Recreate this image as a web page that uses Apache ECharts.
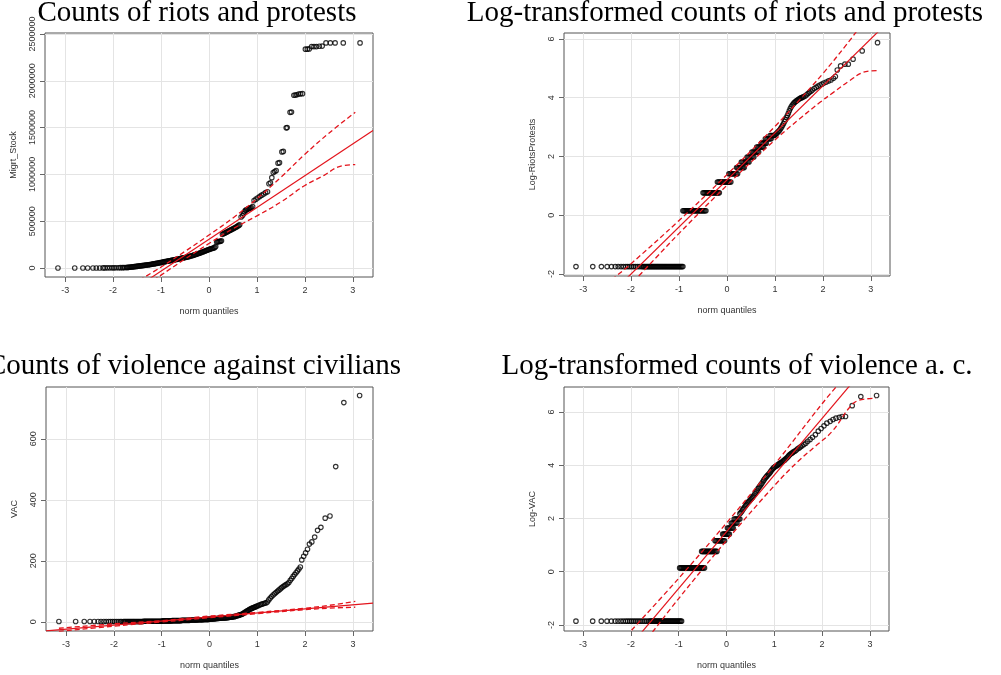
<!DOCTYPE html>
<html>
<head>
<meta charset="utf-8">
<title>QQ plots</title>
<script src="https://cdn.jsdelivr.net/npm/echarts@6/dist/echarts.min.js"></script>
<style>
html, body { margin: 0; padding: 0; background: #fff; }
#chart { width: 1001px; height: 675px; }
</style>
</head>
<body>
<div id="chart"></div>
<script>
// panel titles and axis names
var titles = ['Counts of riots and protests', 'Log-transformed counts of riots and protests',
	'Counts of violence against civilians', 'Log-transformed counts of violence a. c.'];
var yNames = ['Migrt_Stock', 'Log-RiotsProtests', 'VAC', 'Log-VAC'];
var xName = 'norm quantiles';

// tick labels
var qTicks = [-3, -2, -1, 0, 1, 2, 3];
var rpTicks = [0, 500000, 1000000, 1500000, 2000000, 2500000];
var lrpTicks = [-2, 0, 2, 4, 6];
var vacTicks = [0, 200, 400, 600];
var lvacTicks = [-2, 0, 2, 4, 6];

// axis extents [min, max]
var rpX = [-3.42, 3.42], rpY = [-96000, 2510000];
var lrpX = [-3.4, 3.4], lrpY = [-2.07, 6.2];
var vacX = [-3.42, 3.42], vacY = [-30, 770];
var lvacX = [-3.4, 3.4], lvacY = [-2.23, 6.94];

// riots and protests: [norm quantile, value]
var rpPoints = [
	[-3.15,0],[-2.8,0],[-2.63,0],[-2.53,0],[-2.42,0],[-2.35,500],[-2.28,500],[-2.21,1000],[-2.17,1000],[-2.12,1500],
	[-2.07,1500],[-2.02,2000],[-1.98,2000],[-1.94,2500],[-1.89,3000],[-1.85,3500],[-1.81,4000],[-1.78,4500],[-1.75,5000],[-1.72,5500],
	[-1.7,6000],[-1.68,7000],[-1.66,8000],[-1.64,9500],[-1.62,11000],[-1.6,12000],[-1.58,13000],[-1.56,14500],[-1.54,16000],[-1.52,17000],
	[-1.5,18000],[-1.48,19500],[-1.46,21000],[-1.44,22500],[-1.42,24000],[-1.4,25000],[-1.38,26500],[-1.36,28000],[-1.34,29500],[-1.32,31000],
	[-1.3,32000],[-1.28,33500],[-1.26,35000],[-1.24,36500],[-1.22,38000],[-1.2,40000],[-1.18,42000],[-1.16,43500],[-1.14,45000],[-1.12,47000],
	[-1.1,49000],[-1.08,51000],[-1.06,53000],[-1.04,55000],[-1.02,57000],[-1,59000],[-0.98,61000],[-0.96,63000],[-0.94,65500],[-0.92,68000],
	[-0.9,70000],[-0.88,72000],[-0.86,74000],[-0.84,76000],[-0.82,78000],[-0.8,80000],[-0.78,82000],[-0.76,84000],[-0.74,86000],[-0.72,88000],
	[-0.7,90000],[-0.68,92000],[-0.66,94000],[-0.64,96500],[-0.62,99000],[-0.6,101000],[-0.58,103000],[-0.56,105000],[-0.54,107500],[-0.52,110000],
	[-0.5,112000],[-0.48,114500],[-0.46,117000],[-0.44,119500],[-0.42,122000],[-0.4,125000],[-0.38,128000],[-0.36,131000],[-0.34,134000],[-0.32,137500],
	[-0.3,141000],[-0.28,144500],[-0.26,148000],[-0.24,151000],[-0.22,154500],[-0.2,158000],[-0.18,162000],[-0.16,166000],[-0.14,170000],[-0.12,174000],
	[-0.1,178000],[-0.08,182000],[-0.06,186000],[-0.04,190000],[-0.02,194000],[0,198000],[0.02,202000],[0.04,205000],[0.06,208000],[0.08,211000],
	[0.1,215000],[0.12,220000],[0.14,230000],[0.16,278000],[0.18,280000],[0.2,282000],[0.22,284000],[0.24,286000],[0.26,290000],[0.28,360000],
	[0.3,366000],[0.32,371000],[0.34,376000],[0.36,381000],[0.38,386000],[0.4,392000],[0.42,397000],[0.44,403000],[0.46,408000],[0.48,413000],
	[0.5,419000],[0.52,424000],[0.54,429000],[0.56,435000],[0.58,442000],[0.6,448000],[0.62,455000],[0.64,462000],[0.67,545000],[0.7,560000],
	[0.72,580000],[0.74,600000],[0.76,615000],[0.78,622000],[0.8,627000],[0.82,632000],[0.84,636000],[0.86,640000],[0.88,645000],[0.91,655000],
	[0.94,720000],[0.98,735000],[1.02,750000],[1.06,765000],[1.1,778000],[1.14,790000],[1.18,805000],[1.22,815000],[1.25,900000],[1.28,910000],
	[1.31,965000],[1.34,1020000],[1.37,1030000],[1.4,1040000],[1.44,1120000],[1.47,1125000],[1.52,1240000],[1.55,1245000],[1.61,1497000],[1.63,1500000],
	[1.69,1663000],[1.72,1665000],[1.77,1845000],[1.8,1848000],[1.83,1850000],[1.87,1858000],[1.91,1860000],[1.95,1862000],[2.01,2337000],[2.05,2337000],
	[2.09,2340000],[2.14,2365000],[2.19,2365000],[2.24,2365000],[2.3,2368000],[2.36,2370000],[2.44,2404000],[2.53,2404000],[2.63,2404000],[2.8,2404000],
	[3.15,2404000]
];
var rpLine = [[-3.42,-856000],[3.42,1470000]];
var rpUpper = [[-1.45,-130000],[-1,10000],[-0.5,178000],[0,352000],[0.5,535000],[1,740000],[1.5,970000],[2,1215000],[2.5,1440000],[3.05,1663000]];
var rpLower = [[-1.3,-180000],[-1,-76000],[-0.5,96000],[0,262000],[0.5,420000],[1,557000],[1.5,705000],[2,882000],[2.4,990000],[2.7,1080000],[3.05,1105000]];

// log riots and protests
var lrpPoints = [
	[-3.15,-1.75],[-2.8,-1.75],[-2.62,-1.75],[-2.5,-1.75],[-2.41,-1.75],[-2.33,-1.75],[-2.27,-1.75],[-2.21,-1.75],[-2.16,-1.75],[-2.11,-1.75],
	[-2.07,-1.75],[-2.03,-1.75],[-1.99,-1.75],[-1.95,-1.75],[-1.91,-1.75],[-1.87,-1.75],[-1.83,-1.75],[-1.79,-1.75],
	[-1.76,-1.75],[-1.74,-1.75],[-1.72,-1.75],[-1.7,-1.75],[-1.68,-1.75],[-1.66,-1.75],[-1.64,-1.75],[-1.62,-1.75],[-1.6,-1.75],[-1.58,-1.75],
	[-1.56,-1.75],[-1.54,-1.75],[-1.52,-1.75],[-1.5,-1.75],[-1.48,-1.75],[-1.46,-1.75],[-1.44,-1.75],[-1.42,-1.75],[-1.4,-1.75],[-1.38,-1.75],
	[-1.36,-1.75],[-1.34,-1.75],[-1.32,-1.75],[-1.3,-1.75],[-1.28,-1.75],[-1.26,-1.75],[-1.24,-1.75],[-1.22,-1.75],[-1.2,-1.75],[-1.18,-1.75],
	[-1.16,-1.75],[-1.14,-1.75],[-1.12,-1.75],[-1.1,-1.75],[-1.08,-1.75],[-1.06,-1.75],[-1.04,-1.75],[-1.02,-1.75],[-1,-1.75],[-0.98,-1.75],
	[-0.96,-1.75],[-0.94,-1.75],[-0.92,-1.75],
	[-0.92,0.15],[-0.9,0.15],[-0.88,0.15],[-0.86,0.15],[-0.84,0.15],[-0.82,0.15],[-0.8,0.15],[-0.78,0.15],[-0.76,0.15],[-0.74,0.15],[-0.72,0.15],[-0.7,0.15],[-0.68,0.15],
	[-0.66,0.15],[-0.64,0.15],[-0.62,0.15],[-0.6,0.15],[-0.58,0.15],[-0.56,0.15],[-0.54,0.15],[-0.52,0.15],[-0.5,0.15],[-0.48,0.15],[-0.46,0.15],[-0.44,0.15],
	[-0.5,0.76],[-0.48,0.76],[-0.46,0.76],[-0.44,0.76],[-0.42,0.76],[-0.4,0.76],[-0.38,0.76],[-0.36,0.76],[-0.34,0.76],
	[-0.32,0.76],[-0.3,0.76],[-0.28,0.76],[-0.26,0.76],[-0.24,0.76],[-0.22,0.76],[-0.2,0.76],[-0.18,0.76],[-0.16,0.76],
	[-0.2,1.13],[-0.18,1.13],[-0.16,1.13],[-0.14,1.13],[-0.12,1.13],[-0.1,1.13],[-0.08,1.13],[-0.06,1.13],
	[-0.04,1.13],[-0.02,1.13],[0,1.13],[0.02,1.13],[0.04,1.13],[0.06,1.13],[0.08,1.13],
	[0.04,1.41],[0.06,1.41],[0.08,1.41],[0.1,1.41],[0.12,1.41],[0.14,1.41],[0.16,1.41],[0.18,1.41],[0.2,1.41],[0.22,1.41],
	[0.2,1.62],[0.22,1.62],[0.24,1.62],[0.26,1.62],[0.28,1.62],[0.3,1.62],[0.32,1.62],[0.34,1.62],[0.36,1.62],
	[0.3,1.81],[0.32,1.81],[0.34,1.81],[0.36,1.81],[0.38,1.81],[0.4,1.81],[0.42,1.81],[0.44,1.81],[0.46,1.81],
	[0.42,1.98],[0.44,1.98],[0.46,1.98],[0.48,1.98],[0.5,1.98],[0.52,1.98],[0.54,1.98],[0.56,1.98],
	[0.52,2.15],[0.54,2.15],[0.56,2.15],[0.58,2.15],[0.6,2.15],[0.62,2.15],[0.64,2.15],[0.66,2.15],
	[0.62,2.32],[0.64,2.32],[0.66,2.32],[0.68,2.32],[0.7,2.32],[0.72,2.32],[0.74,2.32],[0.76,2.32],
	[0.72,2.45],[0.74,2.45],[0.76,2.45],[0.78,2.45],[0.8,2.45],[0.82,2.45],
	[0.8,2.6],[0.82,2.6],[0.84,2.6],[0.86,2.6],[0.88,2.6],[0.9,2.6],[0.92,2.6],
	[0.9,2.71],[0.92,2.71],[0.94,2.71],[0.96,2.71],[0.98,2.71],
	[1,2.73],[1.02,2.76],[1.04,2.79],[1.06,2.83],[1.08,2.86],[1.1,2.9],[1.12,2.95],[1.14,3],[1.16,3.06],[1.18,3.12],
	[1.2,3.19],[1.22,3.25],[1.24,3.32],[1.26,3.39],[1.28,3.47],[1.3,3.55],[1.32,3.63],[1.34,3.69],[1.36,3.74],[1.38,3.78],
	[1.4,3.82],[1.42,3.85],[1.44,3.88],[1.46,3.9],[1.48,3.93],[1.5,3.95],[1.52,3.97],[1.54,3.99],[1.56,4],[1.58,4.02],
	[1.6,4.03],[1.63,4.06],[1.66,4.1],[1.69,4.14],[1.72,4.18],[1.75,4.22],[1.78,4.26],[1.82,4.31],[1.86,4.35],[1.9,4.39],
	[1.94,4.43],[1.98,4.46],[2.02,4.5],[2.07,4.53],[2.12,4.57],[2.17,4.6],[2.22,4.66],[2.26,4.72],[2.3,4.94],[2.37,5.08],
	[2.46,5.14],[2.53,5.14],[2.63,5.31],[2.82,5.59],[3.14,5.87]
];
var lrpLine = [[-3.4,-4.24],[3.4,6.64]];
var lrpUpper = [[-2.4,-2.19],[-2,-1.65],[-1,-0.18],[0,1.38],[1,3.02],[1.5,3.9],[2,4.82],[2.5,5.82],[2.75,6.36]];
var lrpLower = [[-1.95,-2.26],[-1.5,-1.48],[-1,-0.62],[0,1.02],[1,2.56],[1.5,3.26],[1.94,3.84],[2.22,4.18],[2.56,4.58],[2.84,4.86],[3.12,4.92]];

// violence against civilians
var vacPoints = [
	[-3.15,1],[-2.8,1],[-2.62,1],[-2.5,1],[-2.41,1],[-2.33,1],[-2.27,1],[-2.21,1],[-2.16,1],[-2.11,1],
	[-2.07,1],[-2.03,1],[-1.99,1],[-1.95,1],[-1.91,1],[-1.87,1],[-1.84,1],
	[-1.8,1],[-1.78,1],[-1.76,1],[-1.74,1],[-1.72,1],[-1.7,1],[-1.68,1],[-1.66,1],[-1.64,1],[-1.62,1],[-1.6,1],
	[-1.58,1],[-1.56,1],[-1.54,1],[-1.52,1],[-1.5,1],[-1.48,1],[-1.46,1],[-1.44,1],[-1.42,1],[-1.4,1],
	[-1.38,2],[-1.36,2],[-1.34,2],[-1.32,2],[-1.3,2],[-1.28,2],[-1.26,2],[-1.24,2],[-1.22,2],[-1.2,2],
	[-1.18,2],[-1.16,2],[-1.14,2],[-1.12,2],[-1.1,2],[-1.08,2],[-1.06,2],[-1.04,2],[-1.02,2],[-1,2],
	[-0.98,3],[-0.96,3],[-0.94,3],[-0.92,3],[-0.9,3],[-0.88,3],[-0.86,3],[-0.84,3],[-0.82,3],[-0.8,3],
	[-0.78,4],[-0.76,4],[-0.74,4],[-0.72,4],[-0.7,4],[-0.68,4],[-0.66,4],[-0.64,4],[-0.62,4],[-0.6,4],
	[-0.58,5],[-0.56,5],[-0.54,5],[-0.52,5],[-0.5,5],[-0.48,5],[-0.46,5],[-0.44,5],[-0.42,5],
	[-0.4,6],[-0.38,6],[-0.36,6],[-0.34,6],[-0.32,6],[-0.3,6],[-0.28,6],[-0.26,6],
	[-0.24,7],[-0.22,7],[-0.2,7],[-0.18,7],[-0.16,7],[-0.14,7],[-0.12,8],[-0.1,8],[-0.08,8],[-0.06,8],[-0.04,8],[-0.02,8],
	[0,9],[0.02,9],[0.04,9],[0.06,9],[0.08,10],[0.1,10],[0.12,10],[0.14,11],[0.16,11],[0.18,11],
	[0.2,12],[0.22,12],[0.24,12],[0.26,13],[0.28,13],[0.3,13],[0.32,13],[0.34,13],[0.36,14],[0.38,14],
	[0.4,14],[0.42,15],[0.44,15],[0.46,15],[0.48,16],[0.5,17],[0.52,17],[0.54,18],[0.56,19],[0.58,20],
	[0.6,21],[0.62,22],[0.64,23],[0.66,24],[0.68,25],[0.7,27],[0.72,29],[0.74,31],[0.76,33],[0.78,35],
	[0.8,37],[0.82,39],[0.84,41],[0.86,42],[0.88,44],[0.9,45],[0.92,47],[0.94,48],[0.96,49],[0.98,51],
	[1,52],[1.03,54],[1.06,56],[1.09,58],[1.12,59],[1.15,61],[1.18,62],[1.21,65],[1.24,72],[1.27,78],
	[1.3,83],[1.33,88],[1.36,92],[1.39,96],[1.42,100],[1.45,104],[1.48,108],[1.51,112],[1.54,116],[1.57,119],
	[1.6,122],[1.63,125],[1.66,129],[1.69,136],[1.72,142],[1.75,149],[1.78,155],[1.81,161],[1.84,167],[1.87,173],
	[1.9,180],
	[1.93,203],[1.97,215],[2.01,226],[2.05,238],[2.09,255],[2.14,262],[2.2,278],[2.26,300],[2.33,310],[2.42,340],
	[2.52,347],[2.64,509],[2.81,719],[3.14,742]
];
var vacLine = [[-3.42,-29.5],[3.42,61.5]];
var vacUpper = [[-3.15,-21],[-2,-6.5],[-1,4],[0,19],[1,31],[2,45],[2.5,54],[3.05,67]];
var vacLower = [[-3.15,-31],[-2,-14],[-1,-0.5],[0,13.5],[1,27],[2,40],[2.5,45],[3.05,48]];

// log violence against civilians
var lvacPoints = [
	[-3.15,-1.86],[-2.8,-1.86],[-2.62,-1.86],[-2.5,-1.86],[-2.41,-1.86],[-2.33,-1.86],[-2.27,-1.86],[-2.21,-1.86],[-2.16,-1.86],[-2.11,-1.86],
	[-2.07,-1.86],[-2.03,-1.86],[-1.99,-1.86],[-1.95,-1.86],[-1.91,-1.86],[-1.87,-1.86],[-1.83,-1.86],[-1.79,-1.86],[-1.75,-1.86],[-1.71,-1.86],
	[-1.67,-1.86],[-1.63,-1.86],
	[-1.6,-1.86],[-1.58,-1.86],[-1.56,-1.86],[-1.54,-1.86],[-1.52,-1.86],[-1.5,-1.86],[-1.48,-1.86],[-1.46,-1.86],[-1.44,-1.86],[-1.42,-1.86],
	[-1.4,-1.86],[-1.38,-1.86],[-1.36,-1.86],[-1.34,-1.86],[-1.32,-1.86],[-1.3,-1.86],[-1.28,-1.86],[-1.26,-1.86],[-1.24,-1.86],[-1.22,-1.86],
	[-1.2,-1.86],[-1.18,-1.86],[-1.16,-1.86],[-1.14,-1.86],[-1.12,-1.86],[-1.1,-1.86],[-1.08,-1.86],[-1.06,-1.86],[-1.04,-1.86],[-1.02,-1.86],
	[-1,-1.86],[-0.98,-1.86],[-0.96,-1.86],[-0.94,-1.86],
	[-0.98,0.14],[-0.96,0.14],[-0.94,0.14],[-0.92,0.14],[-0.9,0.14],[-0.88,0.14],[-0.86,0.14],[-0.84,0.14],[-0.82,0.14],[-0.8,0.14],
	[-0.78,0.14],[-0.76,0.14],[-0.74,0.14],[-0.72,0.14],[-0.7,0.14],[-0.68,0.14],[-0.66,0.14],[-0.64,0.14],[-0.62,0.14],[-0.6,0.14],
	[-0.58,0.14],[-0.56,0.14],[-0.54,0.14],[-0.52,0.14],[-0.5,0.14],[-0.48,0.14],[-0.46,0.14],
	[-0.52,0.76],[-0.5,0.76],[-0.48,0.76],[-0.46,0.76],[-0.44,0.76],[-0.42,0.76],[-0.4,0.76],[-0.38,0.76],[-0.36,0.76],
	[-0.34,0.76],[-0.32,0.76],[-0.3,0.76],[-0.28,0.76],[-0.26,0.76],[-0.24,0.76],[-0.22,0.76],[-0.2,0.76],
	[-0.24,1.16],[-0.22,1.16],[-0.2,1.16],[-0.18,1.16],[-0.16,1.16],[-0.14,1.16],[-0.12,1.16],[-0.1,1.16],[-0.08,1.16],[-0.06,1.16],[-0.04,1.16],
	[-0.08,1.41],[-0.06,1.41],[-0.04,1.41],[-0.02,1.41],[0,1.41],[0.02,1.41],[0.04,1.41],[0.06,1.41],
	[0.02,1.64],[0.04,1.64],[0.06,1.64],[0.08,1.64],[0.1,1.64],[0.12,1.64],[0.14,1.64],
	[0.1,1.83],[0.12,1.83],[0.14,1.83],[0.16,1.83],[0.18,1.83],[0.2,1.83],[0.22,1.83],
	[0.16,1.98],[0.18,1.98],[0.2,1.98],[0.22,1.98],[0.24,1.98],[0.26,1.98],[0.28,1.98],
	[0.28,2.18],[0.3,2.22],[0.32,2.27],[0.34,2.33],[0.36,2.38],[0.38,2.43],[0.4,2.48],[0.42,2.53],[0.44,2.58],[0.46,2.62],
	[0.48,2.66],[0.5,2.7],[0.52,2.74],[0.54,2.78],[0.56,2.83],[0.58,2.88],[0.6,2.94],[0.62,3],[0.64,3.06],[0.66,3.12],
	[0.68,3.17],[0.7,3.22],[0.72,3.27],[0.74,3.32],[0.76,3.38],[0.78,3.44],[0.8,3.49],[0.82,3.54],[0.84,3.58],[0.86,3.62],
	[0.88,3.66],[0.9,3.7],[0.92,3.75],[0.94,3.8],[0.96,3.85],[0.98,3.89],[1,3.92],[1.02,3.95],[1.04,3.97],[1.06,3.99],
	[1.08,4.02],[1.1,4.05],[1.12,4.07],[1.14,4.1],[1.16,4.12],[1.18,4.15],[1.2,4.18],[1.22,4.2],[1.24,4.24],[1.26,4.27],
	[1.28,4.31],[1.3,4.35],[1.32,4.39],[1.34,4.42],[1.36,4.45],[1.38,4.47],[1.4,4.5],[1.43,4.53],[1.46,4.57],[1.49,4.62],
	[1.52,4.65],[1.55,4.69],[1.58,4.73],[1.62,4.78],[1.66,4.83],[1.7,4.9],[1.75,4.97],[1.8,5.05],[1.86,5.15],[1.92,5.28],
	[1.98,5.38],[2.04,5.48],[2.1,5.58],[2.17,5.65],[2.23,5.72],[2.29,5.77],[2.36,5.8],[2.42,5.83],[2.49,5.83],[2.63,6.24],
	[2.81,6.58],[3.14,6.62]
];
var lvacLine = [[-3.4,-5.74],[3.4,8.74]];
var lvacUpper = [[-2.1,-2.42],[-1,-0.25],[0,1.83],[1,4.01],[2,6.31],[2.35,7.06]];
var lvacLower = [[-1.65,-2.51],[-1,-1.01],[0,1.17],[1,3.23],[1.5,4.15],[1.87,4.73],[2.21,5.27],[2.56,6.14],[2.74,6.42],[3.12,6.52]];

var panels = [
	{x: rpX, y: rpY, yTicks: rpTicks, pts: rpPoints, line: rpLine, up: rpUpper, lo: rpLower},
	{x: lrpX, y: lrpY, yTicks: lrpTicks, pts: lrpPoints, line: lrpLine, up: lrpUpper, lo: lrpLower},
	{x: vacX, y: vacY, yTicks: vacTicks, pts: vacPoints, line: vacLine, up: vacUpper, lo: vacLower},
	{x: lvacX, y: lvacY, yTicks: lvacTicks, pts: lvacPoints, line: lvacLine, up: lvacUpper, lo: lvacLower}
];

var boxes = [
	{left: 45, top: 33, width: 328, height: 244},
	{left: 564, top: 33, width: 326, height: 243},
	{left: 46, top: 387, width: 327, height: 244},
	{left: 564, top: 387, width: 325, height: 244}
];
var titlePos = [[197, -1], [725, -1], [194, 352], [737, 352]];

var sans = 'Liberation Sans';
var red = '#e3141c';
var option = {
	backgroundColor: '#fff',
	animation: false,
	title: [], grid: [], xAxis: [], yAxis: [], series: []
};

for (var i = 0; i < 4; i++) {
	var p = panels[i];
	option.title.push({
		text: titles[i], left: titlePos[i][0], top: titlePos[i][1], textAlign: 'center', padding: 0,
		textStyle: {fontFamily: 'Liberation Serif', fontSize: 29, fontWeight: 'normal', color: '#000'}
	});
	option.grid.push({
		left: boxes[i].left, top: boxes[i].top, width: boxes[i].width, height: boxes[i].height,
		show: true, borderColor: '#555', borderWidth: 1, backgroundColor: 'transparent'
	});
	option.xAxis.push({
		gridIndex: i, type: 'value', min: p.x[0], max: p.x[1], splitNumber: 7,
		name: xName, nameLocation: 'middle', nameGap: 30,
		nameTextStyle: {fontFamily: sans, fontSize: 9, color: '#333'},
		axisLine: {show: false, onZero: false},
		axisTick: {show: true, length: 5, customValues: qTicks, lineStyle: {color: '#666'}},
		axisLabel: {fontFamily: sans, fontSize: 9, color: '#333', margin: 9, customValues: qTicks},
		splitLine: {show: true, lineStyle: {color: '#e4e4e4', width: 1}}
	});
	option.yAxis.push({
		gridIndex: i, type: 'value', min: p.y[0], max: p.y[1],
		name: yNames[i], nameLocation: 'middle', nameGap: 27, nameRotate: 90,
		nameTextStyle: {fontFamily: sans, fontSize: 9, color: '#333'},
		axisLine: {show: false, onZero: false},
		axisTick: {show: true, length: 5, customValues: p.yTicks, lineStyle: {color: '#666'}},
		axisLabel: {
			fontFamily: sans, fontSize: 9, color: '#333', margin: 8, rotate: 90, customValues: p.yTicks,
			formatter: function (v) { return String(v); }
		},
		splitLine: {show: true, lineStyle: {color: '#e4e4e4', width: 1}}
	});
	// open circles, dense runs merge into solid black
	option.series.push({
		type: 'scatter', xAxisIndex: i, yAxisIndex: i, data: p.pts, silent: true, z: 2,
		symbol: 'circle', symbolSize: 4.5,
		itemStyle: {color: 'rgba(0,0,0,0)', borderColor: '#000', borderWidth: 1.15}
	});
	option.series.push({
		type: 'line', xAxisIndex: i, yAxisIndex: i, data: p.line, silent: true, z: 3, clip: true,
		symbol: 'none', lineStyle: {color: red, width: 1.2}
	});
	option.series.push({
		type: 'line', xAxisIndex: i, yAxisIndex: i, data: p.up, silent: true, z: 3, clip: true, smooth: 0.4,
		symbol: 'none', lineStyle: {color: red, width: 1.3, type: [5, 3]}
	});
	option.series.push({
		type: 'line', xAxisIndex: i, yAxisIndex: i, data: p.lo, silent: true, z: 3, clip: true, smooth: 0.4,
		symbol: 'none', lineStyle: {color: red, width: 1.3, type: [5, 3]}
	});
}

var chart = echarts.init(document.getElementById('chart'), null, {renderer: 'canvas'});
chart.setOption(option);
</script>
</body>
</html>
